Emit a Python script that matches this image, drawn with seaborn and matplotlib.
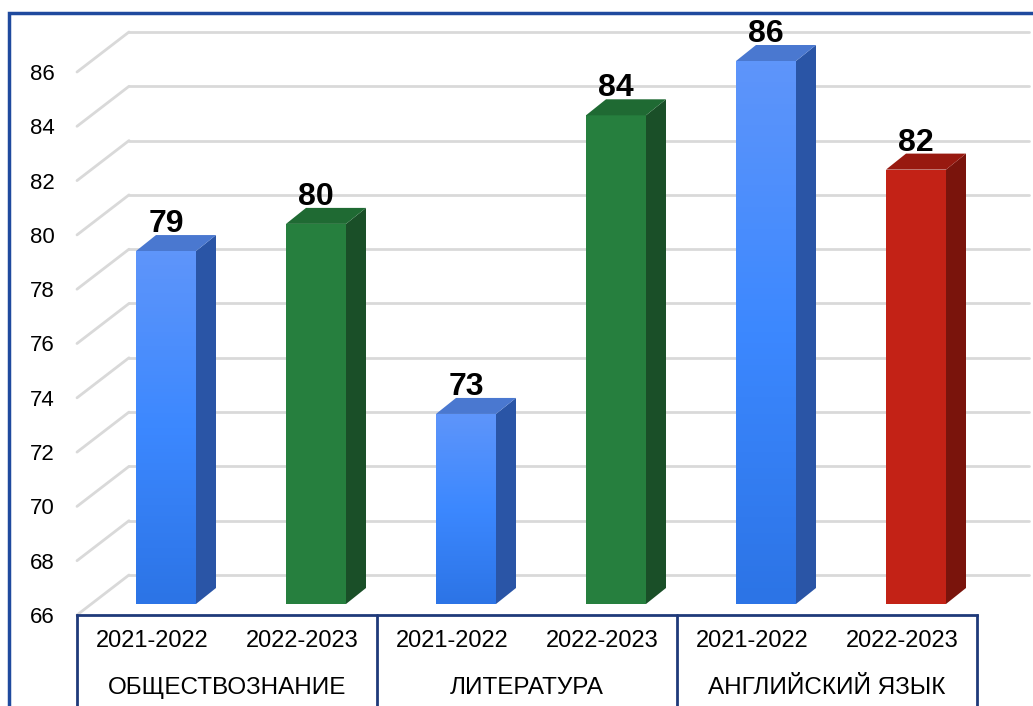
import numpy as np
import pandas as pd
import seaborn as sns
import matplotlib.pyplot as plt
from matplotlib.patches import Polygon, Rectangle
from matplotlib.colors import LinearSegmentedColormap

# data
subjects = ['ОБЩЕСТВОЗНАНИЕ', 'ЛИТЕРАТУРА', 'АНГЛИЙСКИЙ ЯЗЫК']
years = ['2021-2022', '2022-2023']
scores = [79, 80, 73, 84, 86, 82]
bar_colors = ['#3A84F6', '#267F3E', '#3A84F6', '#267F3E', '#3A84F6', '#C32216']
side_colors = ['#2A55A6', '#1A4F28', '#2A55A6', '#1A4F28', '#2A55A6', '#7A140C']
top_colors = ['#4A78D0', '#1F6A33', '#4A78D0', '#1F6A33', '#4A78D0', '#981910']

df = pd.DataFrame({
    'Предмет': [s for s in subjects for _ in years],
    'Год': years * len(subjects),
    'Балл': scores,
})
df['pos'] = [f'{s} {y}' for s, y in zip(df['Предмет'], df['Год'])]

sns.set_theme(style='white')
plt.rcParams['font.family'] = ['Liberation Sans', 'DejaVu Sans']

W, H = 1033, 706
ymin, ymax, ylim_top = 66, 86, 88
fig = plt.figure(figsize=(W / 100, H / 100), dpi=100)
# axes placed in pixel terms: front plane of the 3d box (27.15 px per unit)
ax_l, ax_r, ax_b = 77, 977, 615
ax_t = ax_b - (ylim_top - ymin) * 27.15
ax = fig.add_axes([ax_l / W, (H - ax_b) / H, (ax_r - ax_l) / W, (ax_b - ax_t) / H])

sns.barplot(data=df, x='pos', y='Балл', hue='pos', palette=bar_colors,
            legend=False, width=0.4, ax=ax, saturation=1, zorder=3)
ax.set_ylim(ymin, ylim_top)
ax.set_xlim(-0.5, 5.5)


def shift(x, y, dx, dy):
    p = ax.transData.transform((x, y)) + np.array([dx, dy])
    return ax.transData.inverted().transform(p)


# depth offsets in pixels
wall = (52, 40)
plane = (14, 11)
depth = (20, 16)

# gridlines in perspective
grid_c = '#D9D9D9'
for v in range(ymin, ymax + 1, 2):
    b0 = shift(-0.5, v, *wall)
    b1 = shift(5.5, v, *wall)
    ax.plot([-0.5, b0[0]], [v, b0[1]], color=grid_c, lw=2, clip_on=False, zorder=1)
    ax.plot([b0[0], b1[0]], [b0[1], b1[1]], color=grid_c, lw=2, clip_on=False, zorder=1)

# 3d bars
grad = LinearSegmentedColormap.from_list('g', ['#2C74E6', '#3C88FF', '#5E95FA'])
for i, p in enumerate(ax.patches):
    val = scores[i]
    x0 = p.get_x()
    w = p.get_width()
    p.set_visible(False)
    fl = shift(x0, ymin, *plane)
    fr = shift(x0 + w, ymin, *plane)
    tl = shift(x0, val, *plane)
    tr = shift(x0 + w, val, *plane)
    d = (plane[0] + depth[0], plane[1] + depth[1])
    br = shift(x0 + w, ymin, *d)
    tbr = shift(x0 + w, val, *d)
    tbl = shift(x0, val, *d)
    front = Polygon([fl, fr, tr, tl], closed=True, fc=bar_colors[i], ec='none',
                    zorder=4, clip_on=False)
    ax.add_patch(front)
    if i % 2 == 0 and i < 5:
        im = ax.imshow(np.linspace(0, 1, 100).reshape(-1, 1), cmap=grad,
                       extent=[fl[0], fr[0], fl[1], tl[1]], origin='lower',
                       aspect='auto', zorder=4.5)
        im.set_clip_path(front)
    ax.add_patch(Polygon([fr, br, tbr, tr], closed=True, fc=side_colors[i],
                         ec='none', zorder=4, clip_on=False))
    ax.add_patch(Polygon([tl, tr, tbr, tbl], closed=True, fc=top_colors[i],
                         ec='none', zorder=4, clip_on=False))
    lab = shift(x0 + w / 2, val, plane[0], plane[1] + depth[1] + 3)
    ax.text(lab[0], lab[1], str(val), ha='center', va='baseline', fontsize=23,
            fontweight='bold', color='black', zorder=6, clip_on=False)
ax.set_aspect('auto')
ax.set_xlim(-0.5, 5.5)
ax.set_ylim(ymin, ylim_top)

# axes styling
ax.set_yticks(range(ymin, ymax + 1, 2))
ax.tick_params(axis='y', length=0, pad=16, labelsize=16, labelcolor='black')
ax.set_xticks(range(6))
ax.set_xticklabels(years * 3)
ax.tick_params(axis='x', length=0, pad=11, labelsize=17, labelcolor='black')
ax.set_xlabel('')
ax.set_ylabel('')
for s in ['left', 'right', 'top']:
    ax.spines[s].set_visible(False)
navy = '#1F3A7A'
ax.spines['bottom'].set_color(navy)
ax.spines['bottom'].set_linewidth(2)
ax.spines['bottom'].set_zorder(5)

# category boxes below the axis
axes_h = ax_b - ax_t
for xs in [-0.5, 1.5, 3.5, 5.5]:
    ax.plot([xs, xs], [0, -(H - ax_b + 5) / axes_h], color=navy, lw=2,
            transform=ax.get_xaxis_transform(), clip_on=False)
for j, s in enumerate(subjects):
    ax.text(2 * j + 0.5, -(688 - ax_b) / axes_h, s, ha='center', va='center',
            fontsize=17.5, color='black', transform=ax.get_xaxis_transform())

# outer frame
fig.patches.append(Rectangle((9 / W, -0.05), 1.1, (H - 13) / H + 0.05,
                             transform=fig.transFigure, fill=False,
                             ec='#1F4A9E', lw=2.5, zorder=0))

fig.savefig('out.png', dpi=100)
